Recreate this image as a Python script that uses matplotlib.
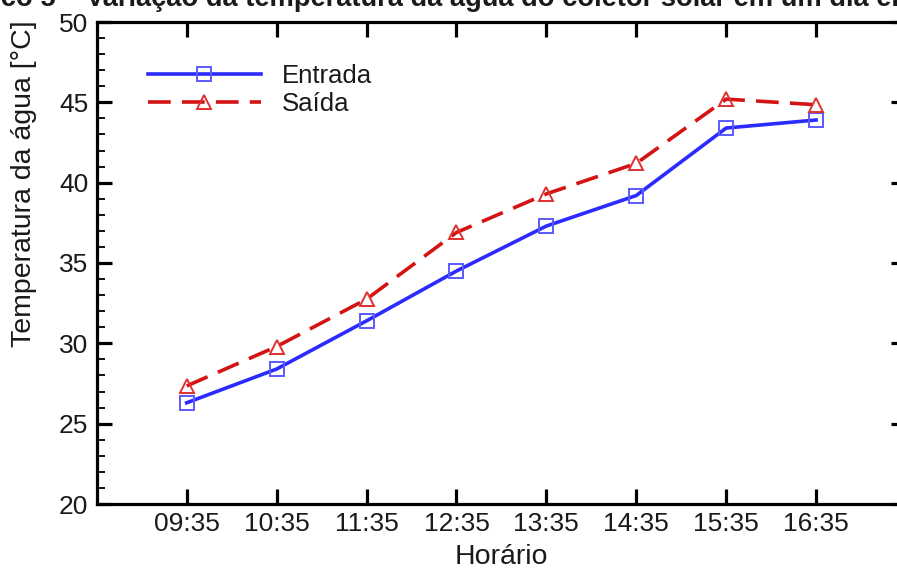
import matplotlib
matplotlib.use("Agg")
import matplotlib.pyplot as plt
from matplotlib.ticker import MultipleLocator

plt.rcParams['font.family'] = ['Liberation Sans', 'DejaVu Sans']

horarios = ["09:35", "10:35", "11:35", "12:35", "13:35", "14:35", "15:35", "16:35"]
entrada = [26.3, 28.4, 31.4, 34.5, 37.3, 39.2, 43.4, 43.9]
saida = [27.35, 29.8, 32.75, 36.9, 39.3, 41.2, 45.2, 44.85]

W, H = 897, 570
fig = plt.figure(figsize=(W / 100, H / 100), dpi=100)
left, right = 96.8, 906.0
top, bottom = 22.0, 504.0
ax = fig.add_axes([left / W, 1 - bottom / H, (right - left) / W, (bottom - top) / H])

x = list(range(len(horarios)))
ax.plot(x, entrada, color='#2b2bff', lw=2.6, marker='s', ms=9.5, mfc='none',
        mec='#5a5aff', mew=1.4, label='Entrada')
ax.plot(x, saida, color='#d41414', lw=2.6, ls=(0, (6.3, 3.1)), marker='^', ms=10.5,
        mfc='none', mec='#e03030', mew=1.4, label='Saída')

ax.set_xlim(-1, 8)
ax.set_ylim(20, 50)
ax.set_xticks(x)
ax.set_xticklabels(horarios)
ax.yaxis.set_major_locator(MultipleLocator(5))
ax.yaxis.set_minor_locator(MultipleLocator(1))

FS = 19
ax.tick_params(axis='both', which='major', direction='in', length=11, width=2.3,
               top=True, right=True, labelsize=FS, pad=6, colors='black')
ax.tick_params(axis='y', which='minor', direction='in', length=6, width=1.3,
               right=True, left=True)
for lab in ax.get_xticklabels() + ax.get_yticklabels():
    lab.set_color('#1a1a1a')
for s in ax.spines.values():
    s.set_linewidth(2.3)

ax.set_xlabel('Horário', fontsize=20.5, labelpad=5.5, color='#1a1a1a')
ax.set_ylabel('Temperatura da água [°C]', fontsize=20.5, color='#1a1a1a')
ax.yaxis.set_label_coords((37 - left) / (right - left), (bottom - 184) / (bottom - top))

leg = ax.legend(loc='upper left', bbox_to_anchor=(0.063, 0.912), frameon=False,
                fontsize=18.5, handlelength=4.4, handletextpad=0.8, labelspacing=0.15,
                borderaxespad=0, borderpad=0, numpoints=1)
for t in leg.get_texts():
    t.set_color('#1a1a1a')

fig.text(-0.070, 1 - 6 / H, 'Gráfico 5 – Variação da temperatura da água do coletor solar em um dia em',
         fontsize=19.6, fontweight='bold', ha='left', va='baseline', color='#1a1a1a')

fig.savefig('out.png', dpi=100)
